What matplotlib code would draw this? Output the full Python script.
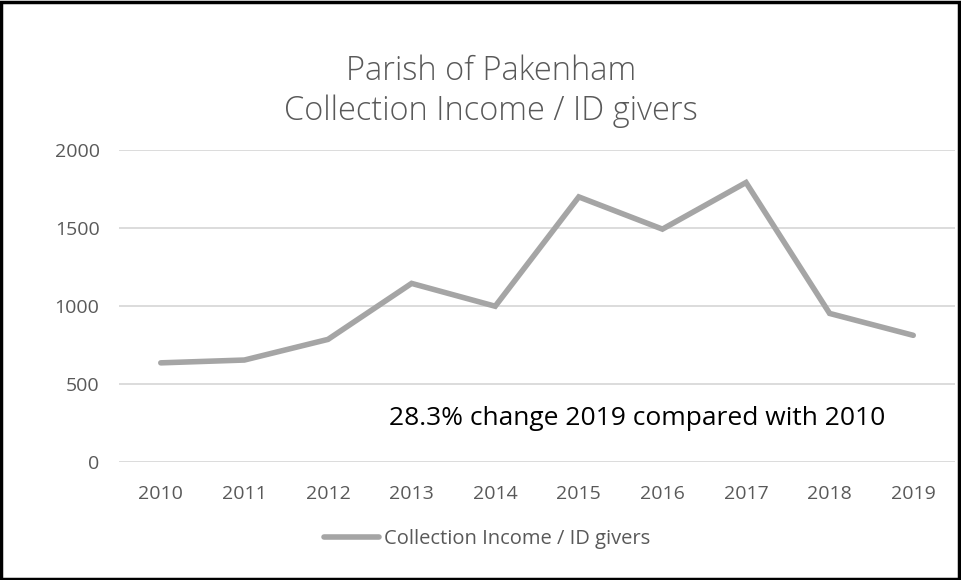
import matplotlib
matplotlib.use("Agg")
import matplotlib.pyplot as plt
from matplotlib.patches import Rectangle

years = ["2010", "2011", "2012", "2013", "2014", "2015", "2016", "2017", "2018", "2019"]
income_per_giver = [636, 654, 786, 1144, 998, 1697, 1491, 1789, 952, 812]
series_name = "Collection Income / ID givers"
note = "28.3% change 2019 compared with 2010"

plt.rcParams['font.family'] = ['Open Sans', 'DejaVu Sans']
grey_text = "#595959"

fig = plt.figure(figsize=(9.61, 5.8), dpi=100)
ax = fig.add_axes([0.1238, 0.2029, 0.87, 0.5393])

x = list(range(len(years)))
ax.plot(x, income_per_giver, color="#a5a5a5", linewidth=4,
        solid_capstyle="round", solid_joinstyle="miter", label=series_name)

ax.set_xlim(-0.5, len(years) - 0.5)
ax.set_ylim(0, 2000)
ax.set_yticks([0, 500, 1000, 1500, 2000])
ax.set_xticks(x)
ax.set_xticklabels(years)
ax.grid(axis="y", color="#d9d9d9", linewidth=1.3)
ax.set_axisbelow(True)
for s in ax.spines.values():
    s.set_visible(False)
ax.tick_params(length=0, colors=grey_text, labelsize=14)
ax.tick_params(axis="y", pad=14)
ax.tick_params(axis="x", pad=16)

# note inside the plot
ax.text(0.323, 0.119, note, transform=ax.transAxes, fontsize=19, color="black",
        ha="left", va="baseline")

fig.text(0.511, 0.862, "Parish of Pakenham", ha="center", va="baseline",
         fontsize=23.5, color=grey_text, fontweight="light")
fig.text(0.511, 0.793, series_name, ha="center", va="baseline",
         fontsize=23.5, color=grey_text, fontweight="light")

leg = fig.legend(loc="center", bbox_to_anchor=(0.507, 0.0707), frameon=False,
                 fontsize=14.5, handlelength=2.73, handletextpad=0.25,
                 borderpad=0, borderaxespad=0)
for t in leg.get_texts():
    t.set_color(grey_text)

fig.patches.append(Rectangle((0.001, 0.002), 0.997, 0.995, transform=fig.transFigure,
                             fill=False, edgecolor="black", linewidth=2.5))

fig.savefig("out.png", dpi=100)
